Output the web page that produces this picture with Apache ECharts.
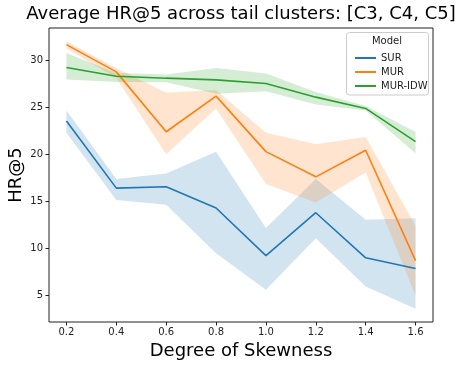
<!DOCTYPE html>
<html>
<head>
<meta charset="utf-8">
<script src="https://cdn.jsdelivr.net/npm/echarts@6/dist/echarts.min.js"></script>
<style>html,body{margin:0;padding:0;background:#fff}#c{width:463px;height:368px}</style>
</head>
<body>
<div id="c"></div>
<script>
const xs = [0.2, 0.4, 0.6, 0.8, 1.0, 1.2, 1.4, 1.6];
const xTicks = [0.2, 0.4, 0.6, 0.8, 1.0, 1.2, 1.4, 1.6];
const yTicks = [5, 10, 15, 20, 25, 30];
const surMean = [23.56, 16.42, 16.56, 14.30, 9.24, 13.80, 9.00, 7.86];
const surLow  = [22.32, 15.15, 14.65, 9.49, 5.60, 11.08, 5.95, 3.59];
const surHigh = [24.69, 17.38, 17.97, 20.30, 12.18, 17.38, 13.06, 13.20];
const murMean = [31.69, 28.79, 22.42, 26.21, 20.30, 17.62, 20.45, 8.71];
const murLow  = [31.27, 28.15, 20.03, 24.90, 16.85, 14.89, 18.08, 5.00];
const murHigh = [32.04, 29.21, 26.56, 26.85, 22.32, 21.09, 21.86, 12.42];
const idwMean = [29.25, 28.33, 28.12, 27.94, 27.55, 26.10, 24.90, 21.36];
const idwLow  = [27.98, 27.72, 27.69, 26.45, 26.74, 25.33, 24.69, 20.13];
const idwHigh = [30.80, 28.68, 28.51, 29.21, 28.62, 26.66, 25.15, 22.39];

const FONT = 'DejaVu Sans';
const models = [
  {name: 'SUR', color: '#1f77b4', mean: surMean, low: surLow, high: surHigh},
  {name: 'MUR', color: '#ff7f0e', mean: murMean, low: murLow, high: murHigh},
  {name: 'MUR-IDW', color: '#2ca02c', mean: idwMean, low: idwLow, high: idwHigh}
];

const series = [];
models.forEach(m => {
  const bandData = xs.map((x, i) => [x, m.low[i], m.high[i]]);
  series.push({
    name: m.name + '_band', type: 'custom', silent: true, z: 1,
    encode: {x: 0, y: [1, 2]},
    data: bandData,
    renderItem: function (params, api) {
      if (params.dataIndex !== 0) return null;
      const upper = bandData.map(d => api.coord([d[0], d[2]]));
      const lower = bandData.map(d => api.coord([d[0], d[1]])).reverse();
      return {
        type: 'polygon',
        shape: {points: upper.concat(lower)},
        style: {fill: m.color, opacity: 0.2, stroke: null}
      };
    }
  });
});
models.forEach(m => {
  series.push({
    name: m.name, type: 'line', z: 3, showSymbol: false, symbol: 'none',
    color: m.color,
    lineStyle: {color: m.color, width: 1.6},
    data: xs.map((x, i) => [x, m.mean[i]])
  });
});

const chart = echarts.init(document.getElementById('c'), null, {renderer: 'canvas'});
chart.setOption({
  animation: false,
  grid: {left: 49, right: 30, top: 28, bottom: 46, show: true, borderColor: '#222', borderWidth: 1},
  xAxis: {
    type: 'value', min: 0.13, max: 1.67,
    splitLine: {show: false},
    axisLine: {show: false},
    axisTick: {show: true, customValues: xTicks, length: 3.5, lineStyle: {color: '#222'}},
    axisLabel: {customValues: xTicks, margin: 5, color: '#222', fontFamily: FONT, fontSize: 10,
      formatter: v => Number(v).toFixed(1)}
  },
  yAxis: {
    type: 'value', min: 2.17, max: 33.46,
    splitLine: {show: false},
    axisLine: {show: false},
    axisTick: {show: true, customValues: yTicks, length: 3.5, lineStyle: {color: '#222'}},
    axisLabel: {customValues: yTicks, margin: 6, color: '#222', fontFamily: FONT, fontSize: 10}
  },
  legend: {
    data: ['SUR', 'MUR', 'MUR-IDW'],
    orient: 'vertical', left: 350, top: 48, z: 20,
    itemWidth: 21, itemHeight: 2, itemGap: 4, icon: 'rect',
    textStyle: {fontFamily: FONT, fontSize: 10, color: '#222'}
  },
  graphic: [
    {type: 'text', x: 241, y: 14, z: 20,
      style: {text: 'Average HR@5 across tail clusters: [C3, C4, C5]', fontFamily: FONT, fontSize: 18,
        fill: '#000', textAlign: 'center', textVerticalAlign: 'middle'}},
    {type: 'text', x: 241, y: 351, z: 20,
      style: {text: 'Degree of Skewness', fontFamily: FONT, fontSize: 18,
        fill: '#000', textAlign: 'center', textVerticalAlign: 'middle'}},
    {type: 'text', x: 16, y: 175, rotation: Math.PI / 2, z: 20,
      style: {text: 'HR@5', fontFamily: FONT, fontSize: 18,
        fill: '#000', textAlign: 'center', textVerticalAlign: 'middle'}},
    {type: 'rect', z: 15, shape: {x: 346.5, y: 32.5, width: 82, height: 62.5, r: 3},
      style: {fill: 'rgba(255,255,255,0.8)', stroke: '#cccccc', lineWidth: 1}},
    {type: 'text', x: 387, y: 41, z: 20,
      style: {text: 'Model', fontFamily: FONT, fontSize: 10,
        fill: '#222', textAlign: 'center', textVerticalAlign: 'middle'}}
  ],
  series: series
});
</script>
</body>
</html>
